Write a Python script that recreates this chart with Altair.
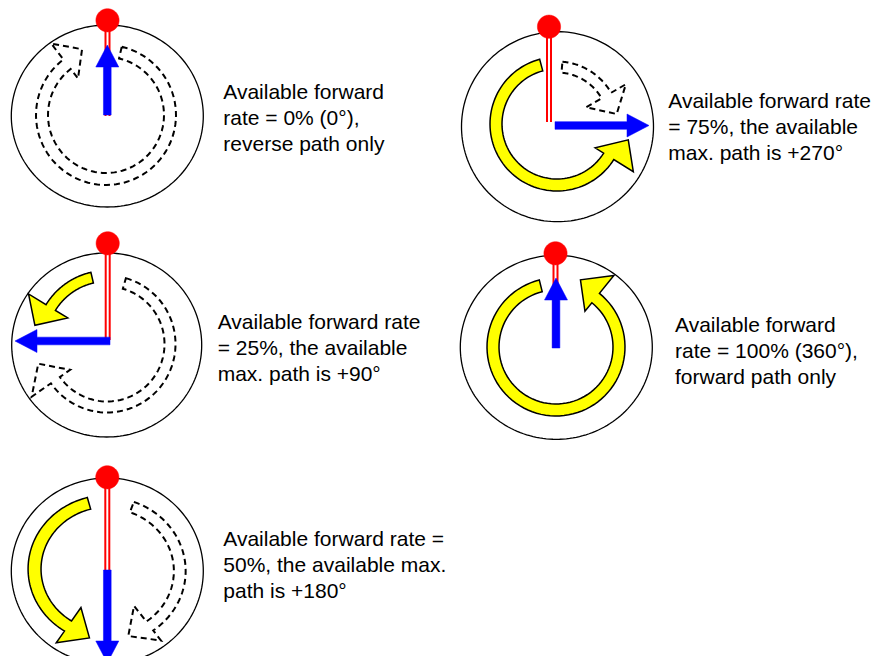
import math
import altair as alt
import pandas as pd

# ---------------- data (image pixel coordinates) ----------------
panel_cx = [107.3, 557.5, 106.7, 556.3, 107.3]
panel_cy = [116.0, 126.7, 345.0, 347.3, 571.0]
panel_rx = [96.0, 96.0, 95.0, 96.0, 96.0]
panel_ry = [91.0, 95.0, 92.0, 92.0, 93.0]

pin_x = [107.5, 549.0, 107.7, 555.5, 107.3]
pin_y = [20.3, 26.7, 243.3, 253.3, 477.3]
pin_end_y = [116.0, 122.0, 340.0, 348.0, 570.0]
dot_r = 11.6

blue_x0 = [107.3, 555.0, 110.0, 556.0, 107.3]
blue_y0 = [115.0, 125.5, 341.0, 348.0, 570.0]
blue_angle = [0, 90, 270, 0, 180]
blue_len = [70.0, 94.0, 95.0, 70.0, 93.0]

labels = [
    "Available forward\nrate = 0% (0°),\nreverse path only",
    "Available forward rate\n= 75%, the available\nmax. path is +270°",
    "Available forward rate\n= 25%, the available\nmax. path is +90°",
    "Available forward\nrate = 100% (360°),\nforward path only",
    "Available forward rate =\n50%, the available max.\npath is +180°",
]
label_x = [223.3, 668.3, 217.7, 675.0, 223.3]
label_y = [99.0, 108.0, 328.5, 332.0, 546.0]

# yellow (available) arc arrows: cx, cy, horizontal stretch, mid radius, half width, start angle,
# head-base angle, head inner r, head outer r, tip angle, tip r  (angles clockwise from 12 o'clock)
y_cx = [557.0, 107.0, 556.0, 108.0]
y_cy = [124.0, 342.0, 347.0, 569.0]
y_sx = [1.0, 1.0, 1.0, 1.08]
y_rm = [61.0, 66.0, 63.0, 68.0]
y_hw = [6.0, 5.5, 6.0, 6.0]
y_a0 = [-15.0, -13.0, -14.0, -15.0]
y_a1 = [-238.0, -58.5, -321.0, -147.0]
y_rin = [45.0, 46.0, 46.0, 46.0]
y_rout = [90.0, 92.0, 92.0, 88.0]
y_ta = [-257.5, -77.0, -340.0, -166.0]
y_tr = [73.0, 74.0, 71.5, 71.0]

# dashed (reverse) arc arrows
d_cx = [106.0, 557.0, 107.0, 107.0]
d_cy = [115.0, 124.0, 344.0, 571.0]
d_sx = [1.0, 1.0, 1.0, 1.07]
d_rm = [64.0, 57.0, 63.0, 68.0]
d_hw = [6.0, 5.5, 5.5, 5.5]
d_a0 = [13.0, 5.0, 16.0, 20.0]
d_a1 = [322.5, 60.0, 235.0, 144.0]
d_rin = [46.0, 33.5, 45.0, 43.0]
d_rout = [90.0, 79.5, 92.0, 86.0]
d_ta = [340.0, 80.5, 254.0, 163.0]
d_tr = [70.0, 60.5, 71.5, 68.0]


# ---------------- geometry helpers ----------------
def pt(cx, cy, r, a, sx=1.0):
    t = math.radians(a)
    return [cx + sx * r * math.sin(t), cy - r * math.cos(t)]


def feat(geom):
    return {"type": "Feature", "properties": {}, "geometry": geom}


def arc_arrow(cx, cy, sx, rm, hw, a0, a1, rin, rout, ta, tr):
    n = 80
    outer = [pt(cx, cy, rm + hw, a0 + (a1 - a0) * i / n, sx) for i in range(n + 1)]
    inner = [pt(cx, cy, rm - hw, a1 + (a0 - a1) * i / n, sx) for i in range(n + 1)]
    head = [pt(cx, cy, rout, a1, sx), pt(cx, cy, tr, ta, sx), pt(cx, cy, rin, a1, sx)]
    ring = outer + head + inner
    ring.append(ring[0])
    return feat({"type": "Polygon", "coordinates": [ring]})


def ellipse(cx, cy, rx, ry, n=180):
    ring = [[cx + rx * math.sin(2 * math.pi * i / n), cy - ry * math.cos(2 * math.pi * i / n)] for i in range(n + 1)]
    return ring


def blue_arrow(x0, y0, ang, length, hw=3.85, hh=11.5, hl=22.0):
    t = math.radians(ang)
    dx, dy = math.sin(t), -math.cos(t)
    nx, ny = math.cos(t), math.sin(t)
    bx, by = x0 + dx * (length - hl), y0 + dy * (length - hl)
    tx, ty = x0 + dx * length, y0 + dy * length
    ring = [
        [x0 + nx * hw, y0 + ny * hw],
        [bx + nx * hw, by + ny * hw],
        [bx + nx * hh, by + ny * hh],
        [tx, ty],
        [bx - nx * hh, by - ny * hh],
        [bx - nx * hw, by - ny * hw],
        [x0 - nx * hw, y0 - ny * hw],
    ]
    ring.append(ring[0])
    return feat({"type": "Polygon", "coordinates": [ring]})


circles = [feat({"type": "LineString", "coordinates": ellipse(panel_cx[i], panel_cy[i], panel_rx[i], panel_ry[i])}) for i in range(5)]
dashed = [arc_arrow(d_cx[i], d_cy[i], d_sx[i], d_rm[i], d_hw[i], d_a0[i], d_a1[i], d_rin[i], d_rout[i], d_ta[i], d_tr[i]) for i in range(len(d_cx))]
yellow = [arc_arrow(y_cx[i], y_cy[i], y_sx[i], y_rm[i], y_hw[i], y_a0[i], y_a1[i], y_rin[i], y_rout[i], y_ta[i], y_tr[i]) for i in range(len(y_cx))]
pins = [feat({"type": "LineString", "coordinates": [[pin_x[i], pin_y[i]], [pin_x[i], pin_end_y[i]]]}) for i in range(5)]
blues = [blue_arrow(blue_x0[i], blue_y0[i], blue_angle[i], blue_len[i]) for i in range(5)]
dots = [feat({"type": "Polygon", "coordinates": [ellipse(pin_x[i], pin_y[i], dot_r, dot_r, 60)]}) for i in range(5)]


def geo(features, **mk):
    return alt.Chart(alt.Data(values=features)).mark_geoshape(**mk).project(type="identity", scale=1, translate=[-8, -8])


layers = [
    geo(circles, filled=False, stroke="black", strokeWidth=1.3),
    geo(dashed, filled=False, stroke="black", strokeWidth=2, strokeDash=[6, 4], strokeJoin="miter"),
    geo(yellow, fill="#FFFF00", stroke="black", strokeWidth=1.5, strokeJoin="miter"),
    geo(pins, filled=False, stroke="#FF0000", strokeWidth=6),
    geo(pins, filled=False, stroke="white", strokeWidth=2),
    geo(blues, fill="#0000FF", stroke="#0000FF", strokeWidth=0.5, strokeJoin="miter"),
    geo(dots, fill="#FF0000", stroke="#FF0000", strokeWidth=0.5),
]

text_df = pd.DataFrame({"x": label_x, "y": label_y, "t": labels})
text = alt.Chart(text_df).mark_text(
    align="left", baseline="alphabetic", font="Liberation Sans", fontSize=21,
    lineHeight=26, lineBreak="\n", color="black",
).encode(longitude="x:Q", latitude="y:Q", text="t:N").project(type="identity", scale=1, translate=[-8, -8])

chart = alt.layer(*layers, text).properties(
    width=864, height=648, padding=0, autosize="none"
).configure_view(stroke=None)

chart.save("out.html", embed_options={"renderer": "svg", "actions": False})
